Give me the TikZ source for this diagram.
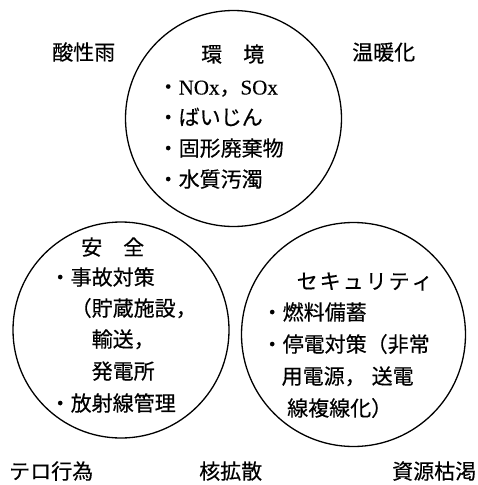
\documentclass[tikz,border=0pt]{standalone}
\usepackage{fontspec}
\setmainfont{Liberation Serif}[FakeBold=0.3]
\newfontfamily\jp{Noto Sans CJK JP}[FakeBold=0.4]
\tikzset{
  ring/.style={circle, draw, line width=1.3pt, inner sep=0pt},
  txt/.style={anchor=base west, inner sep=0pt, font=\jp\fontsize{21}{21}\selectfont},
}
\begin{document}
\begin{tikzpicture}[x=1pt,y=-1pt]
\useasboundingbox (0,0) rectangle (478,485);
% circles
\node[ring, minimum size=216pt] (env) at (233.5,118.5) {};
\node[ring, minimum size=216pt] (safe) at (121,330) {};
\node[ring, minimum size=224pt] (sec) at (353.5,334.5) {};
% outer labels
\node[txt] (acid) at (52,60) {酸性雨};
\node[txt] (warm) at (352,60) {温暖化};
\node[txt] (terror) at (9,479) {テロ行為};
\node[txt] (nuc) at (199,479) {核拡散};
\node[txt] (res) at (392,479) {資源枯渇};
% environment
\node[txt] (envt) at (201,62) {環　境};
\node[txt] (env1) at (157.5,94.5) {・{\rmfamily NOx}，{\rmfamily SOx}};
\node[txt] (env2) at (157.5,125) {・ばいじん};
\node[txt] (env3) at (157.5,156) {・固形廃棄物};
\node[txt] (env4) at (157.5,187) {・水質汚濁};
% safety
\node[txt] (safet) at (81,255) {安　全};
\node[txt] (safe1) at (49.5,285) {・事故対策};
\node[txt] (safe2) at (70.5,316) {（貯蔵施設，};
\node[txt] (safe3) at (91.5,347) {輸送，};
\node[txt] (safe4) at (91.5,379) {発電所};
\node[txt] (safe5) at (49.5,411) {・放射線管理};
% security
\node[txt] (sect) at (296.5,289) {セ\kern2pt キ\kern2pt ュ\kern2pt リ\kern2pt テ\kern2pt ィ};
\node[txt] (sec1) at (261.5,320) {・燃料備蓄};
\node[txt] (sec2) at (261.5,352) {・停電対策（非常};
\node[txt] (sec3) at (281.5,384) {用電源，\kern6pt 送電};
\node[txt] (sec4) at (287,416) {線複線化）};
\end{tikzpicture}
\end{document}
